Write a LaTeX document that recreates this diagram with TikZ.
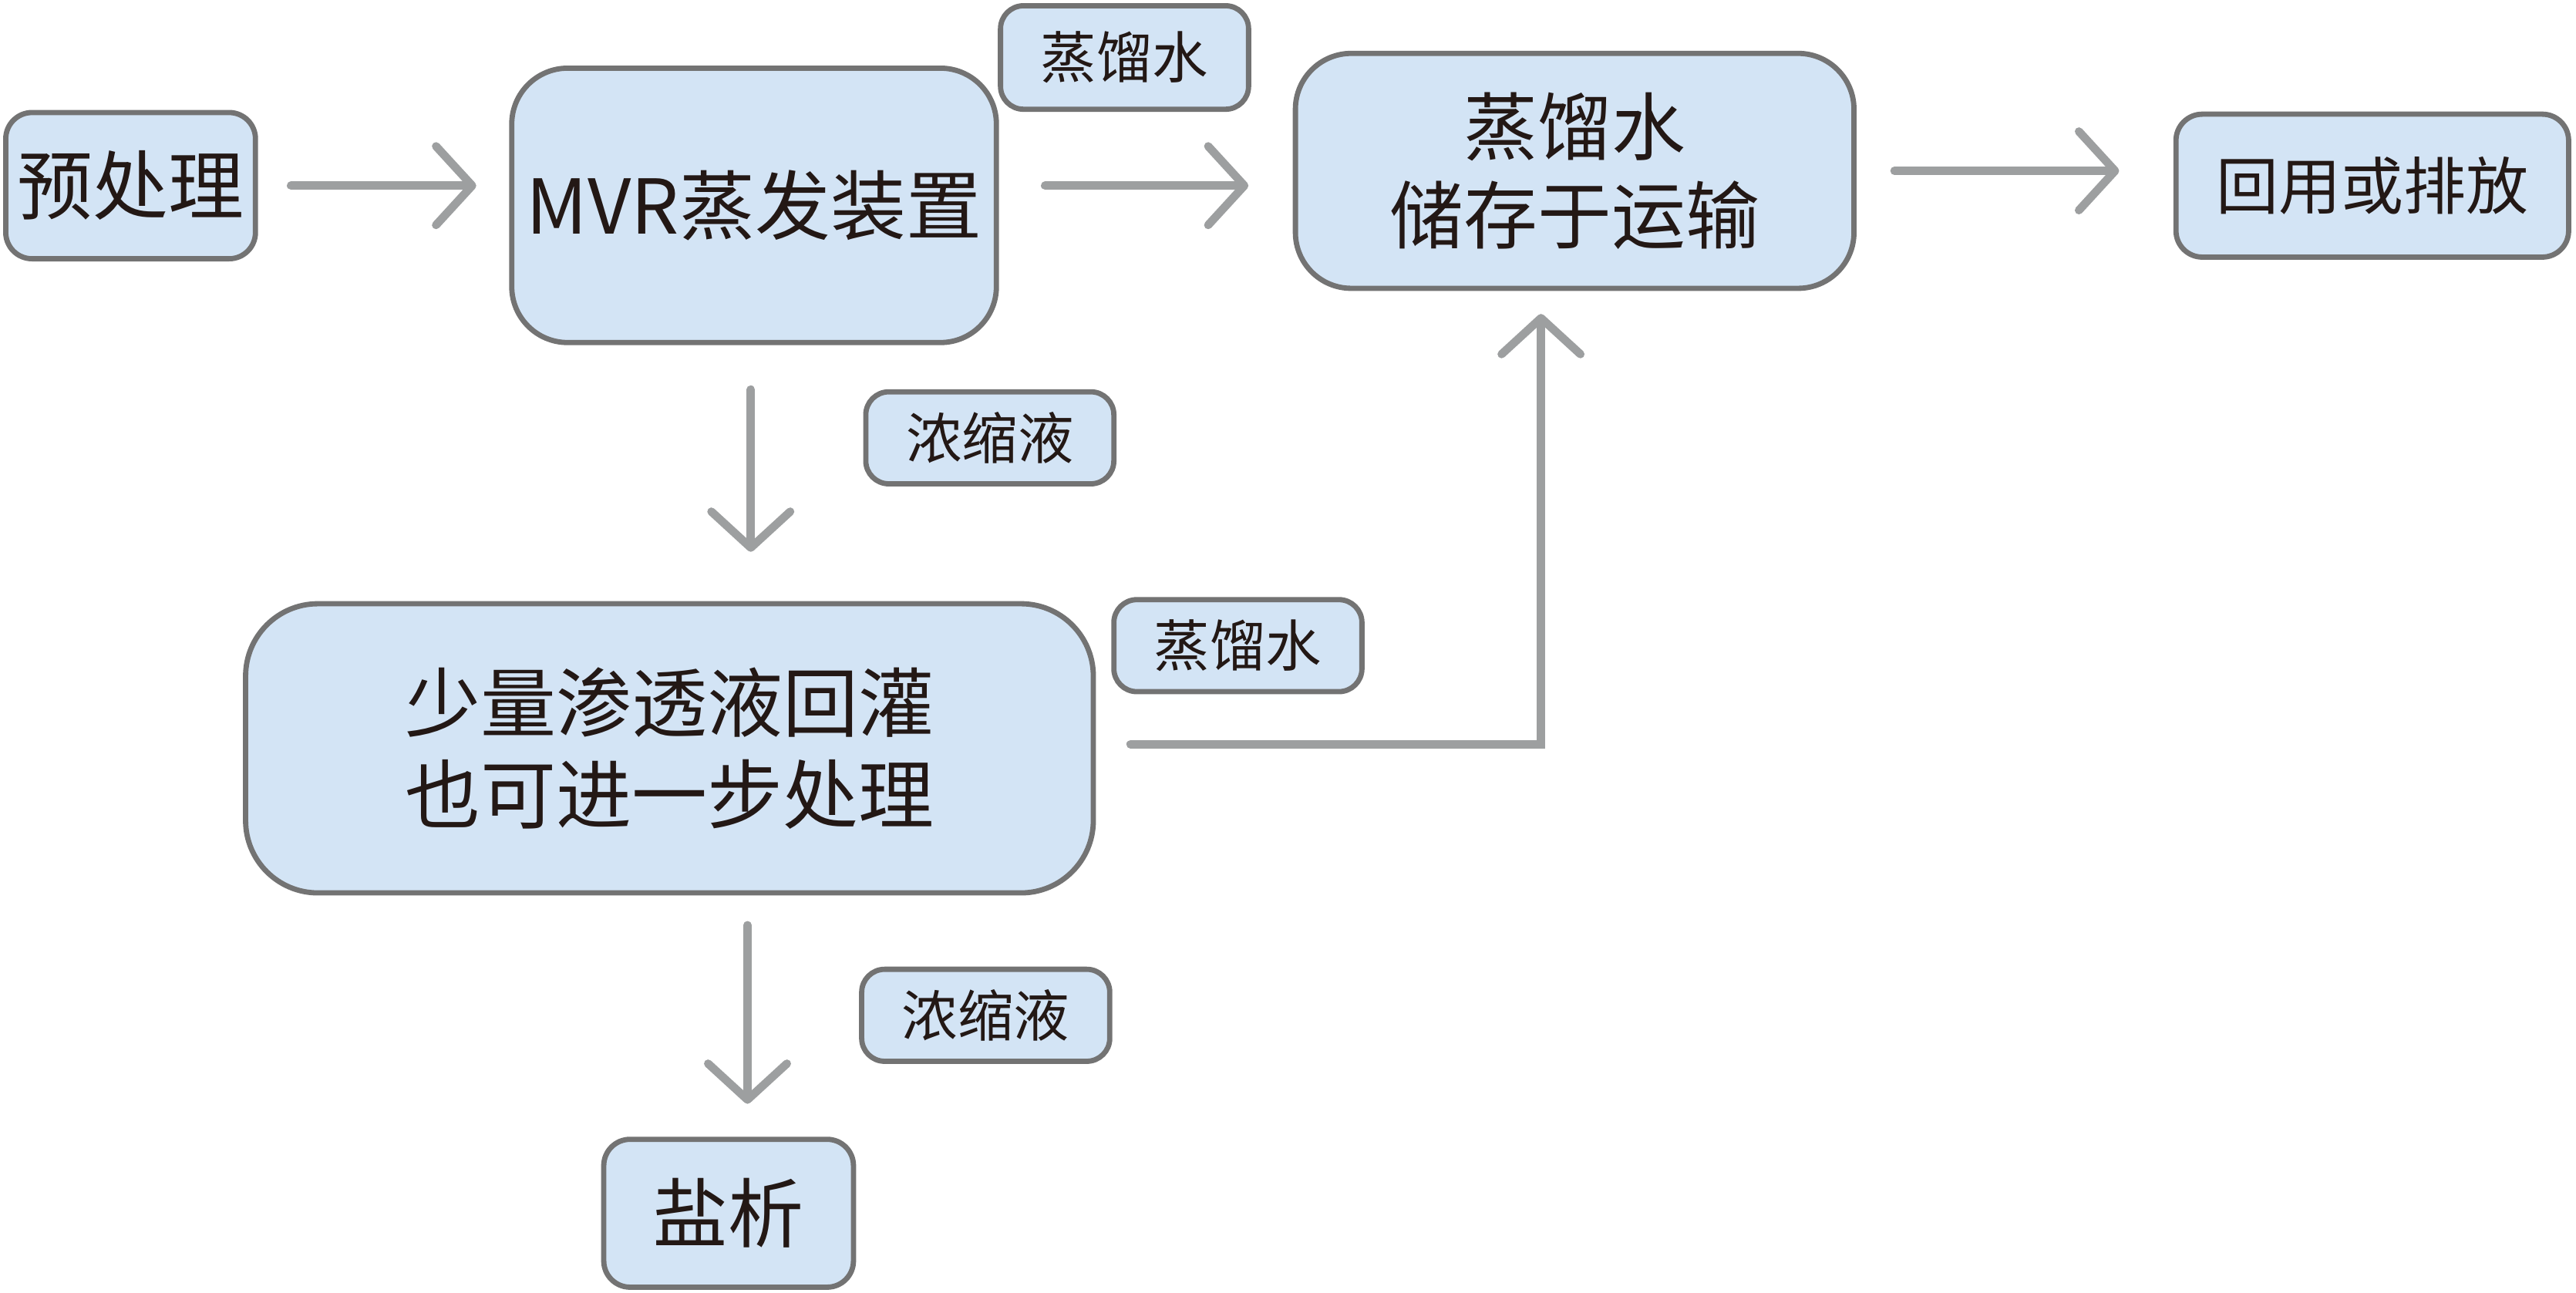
\documentclass[tikz,border=0pt]{standalone}
\usepackage{fontspec}
\setmainfont{Noto Sans CJK SC}
\usetikzlibrary{arrows.meta}
\definecolor{boxfill}{HTML}{D3E4F5}
\definecolor{boxline}{HTML}{737373}
\definecolor{flowgray}{HTML}{9D9FA0}
\definecolor{ink}{HTML}{231815}
\tikzset{
  box/.style={rectangle, rounded corners=#1, draw=boxline, fill=boxfill, line width=3.2pt,
    text=ink, align=center, inner sep=0pt},
  box/.default=16pt,
  big/.style={font=\fontsize{46}{56}\selectfont},
  mid/.style={font=\fontsize{38}{54}\selectfont},
  small/.style={font=\fontsize{34}{40}\selectfont},
  lbl/.style={box=14pt, small, minimum width=151pt, minimum height=56pt},
  flow/.style={draw=flowgray, line width=5pt, line cap=round,
    -{Straight Barb[length=22pt, width=48pt, round]}},
}

\begin{document}
\begin{tikzpicture}[x=1pt, y=-1pt]
\useasboundingbox (0,0) rectangle (1568,787);

% ── Hauptkette ───────────────────────────────────────────────
\node[box, big, minimum width=152pt, minimum height=89pt] (pre) at (79.5,113) {预处理};
\node[box=34pt, big, minimum width=295pt, minimum height=167pt] (mvr) at (459,125) {MVR蒸发装置};
\node[box=34pt, font=\fontsize{45}{54}\selectfont, minimum width=340pt, minimum height=143pt] (store) at (958.5,104) {蒸馏水\\储存于运输};
\node[box, mid, minimum width=239pt, minimum height=87pt] (reuse) at (1444,113) {回用或排放};

% ── untere Kette ─────────────────────────────────────────────
\node[box=44pt, big, minimum width=516pt, minimum height=176pt] (back) at (407.5,455.5) {少量渗透液回灌\\也可进一步处理};
\node[box, big, minimum width=152pt, minimum height=90pt] (salt) at (443.5,738.5) {盐析};

% ── Beschriftungen ───────────────────────────────────────────
\node[lbl, minimum height=63pt] (w1) at (684.5,35) {蒸馏水};
\node[lbl] (c1) at (602.5,266.5) {浓缩液};
\node[lbl] (w2) at (753.5,393) {蒸馏水};
\node[lbl] (c2) at (600,618) {浓缩液};

% ── Pfeile ───────────────────────────────────────────────────
\draw[flow] ([xshift=20pt]pre.east) -- ([xshift=-20pt]mvr.west |- pre.east);
\draw[flow] ([xshift=28pt]mvr.east |- pre.east) -- ([xshift=-27pt]store.west |- pre.east);
\draw[flow] ([xshift=23pt]store.east) -- ([xshift=-33pt]reuse.west |- store.east);
\draw[flow] ([yshift=-27pt]mvr.south -| 457,0) -- ([yshift=30pt]back.north -| 457,0);
\coordinate (turn) at (938,453);
\draw[flow] ([xshift=21pt]back.east |- turn) -- (turn) -- ([yshift=-14pt]turn |- store.south);
\draw[flow] ([yshift=-18pt]back.south -| 455,0) -- ([yshift=20pt]salt.north -| 455,0);

\end{tikzpicture}
\end{document}
